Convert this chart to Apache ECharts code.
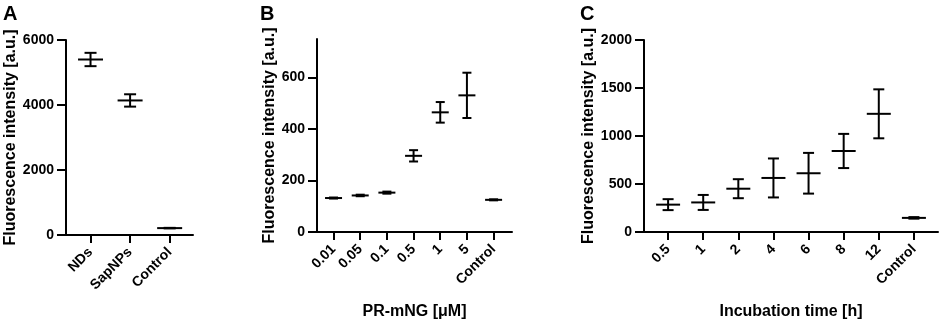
<!DOCTYPE html>
<html>
<head>
<meta charset="utf-8">
<script src="https://cdn.jsdelivr.net/npm/echarts@6/dist/echarts.min.js"></script>
<style>
  html, body { margin: 0; padding: 0; background: #fff; }
  #chart { width: 941px; height: 325px; }
</style>
</head>
<body>
<div id="chart"></div>
<script>
// Panel A: particle type
const catsA = ["NDs", "SapNPs", "Control"];
const meanA = [5400, 4140, 212];
const sdA = [205, 190, 8];

// Panel B: PR-mNG concentration
const catsB = ["0.01", "0.05", "0.1", "0.5", "1", "5", "Control"];
const meanB = [132, 142, 153, 296, 465, 531, 125];
const sdB = [2, 3, 4, 22, 40, 88, 2];

// Panel C: incubation time
const catsC = ["0.5", "1", "2", "4", "6", "8", "12", "Control"];
const meanC = [285, 308, 451, 563, 612, 844, 1231, 147];
const sdC = [57, 78, 99, 203, 212, 178, 255, 8];

const FONT = "'Liberation Sans', Arial, sans-serif";
const INK = "#000";

const toRows = (means, sds) => means.map((m, i) => [i, m, sds[i]]);

const errorBar = (capW, meanW) => (params, api) => {
  const x = api.value(0);
  const m = api.value(1);
  const sd = api.value(2);
  const top = api.coord([x, m + sd]);
  const bot = api.coord([x, m - sd]);
  const mid = api.coord([x, m]);
  const style = { stroke: INK, lineWidth: 2 };
  const hline = (p, w) => ({
    type: "line",
    shape: { x1: p[0] - w / 2, y1: p[1], x2: p[0] + w / 2, y2: p[1] },
    style,
  });
  return {
    type: "group",
    children: [
      { type: "line", shape: { x1: top[0], y1: top[1], x2: bot[0], y2: bot[1] }, style },
      hline(top, capW),
      hline(bot, capW),
      hline(mid, meanW),
    ],
  };
};

const xAxisFor = (gridIndex, cats, min, max, name) => ({
  type: "value",
  gridIndex,
  min,
  max,
  name,
  nameLocation: "middle",
  nameGap: 72,
  nameTextStyle: { fontFamily: FONT, fontWeight: "bold", fontSize: 16, color: INK },
  splitLine: { show: false },
  axisLine: { show: true, onZero: false, lineStyle: { color: INK, width: 2 } },
  axisTick: { show: true, length: 8, lineStyle: { color: INK, width: 2 }, customValues: cats.map((c, i) => i) },
  axisLabel: {
    customValues: cats.map((c, i) => i),
    formatter: (v) => cats[Math.round(v)] ?? "",
    rotate: 45,
    margin: 15,
    fontFamily: FONT,
    fontWeight: "bold",
    fontSize: 14,
    color: INK,
  },
});

const yAxisFor = (gridIndex, max, ticks, nameGap) => ({
  type: "value",
  gridIndex,
  min: 0,
  max,
  name: "Fluorescence intensity [a.u.]",
  nameLocation: "middle",
  nameRotate: 90,
  nameGap,
  nameTextStyle: { fontFamily: FONT, fontWeight: "bold", fontSize: 16, color: INK },
  splitLine: { show: false },
  axisLine: { show: true, onZero: false, lineStyle: { color: INK, width: 2 } },
  axisTick: { show: true, length: 9, lineStyle: { color: INK, width: 2 }, customValues: ticks },
  axisLabel: {
    customValues: ticks,
    formatter: (v) => String(v),
    margin: 12,
    fontFamily: FONT,
    fontWeight: "bold",
    fontSize: 14,
    color: INK,
  },
});

const letter = (text, left) => ({
  type: "text",
  left,
  top: 4,
  style: { text, fontFamily: FONT, fontWeight: "bold", fontSize: 20, fill: INK },
});

const chart = echarts.init(document.getElementById("chart"), null, { renderer: "canvas" });

chart.setOption({
  animation: false,
  backgroundColor: "#fff",
  graphic: [letter("A", 3), letter("B", 260), letter("C", 580)],
  grid: [
    { left: 66, top: 40, width: 127, height: 195 },
    { left: 317, top: 39, width: 195, height: 196 },
    { left: 644, top: 40, width: 294, height: 195 },
  ],
  xAxis: [
    xAxisFor(0, catsA, -0.62, 2.59, ""),
    xAxisFor(1, catsB, -0.62, 6.69, "PR-mNG [μM]"),
    xAxisFor(2, catsC, -0.686, 7.686, "Incubation time [h]"),
  ],
  yAxis: [
    yAxisFor(0, 6000, [0, 2000, 4000, 6000], 46),
    yAxisFor(1, 750, [0, 200, 400, 600], 38),
    yAxisFor(2, 2000, [0, 500, 1000, 1500, 2000], 47),
  ],
  series: [
    {
      type: "custom", xAxisIndex: 0, yAxisIndex: 0,
      renderItem: errorBar(12, 25),
      data: toRows(meanA, sdA),
    },
    {
      type: "custom", xAxisIndex: 1, yAxisIndex: 1,
      renderItem: errorBar(9, 17),
      data: toRows(meanB, sdB),
    },
    {
      type: "custom", xAxisIndex: 2, yAxisIndex: 2,
      renderItem: errorBar(11, 24),
      data: toRows(meanC, sdC),
    },
  ],
});
</script>
</body>
</html>
